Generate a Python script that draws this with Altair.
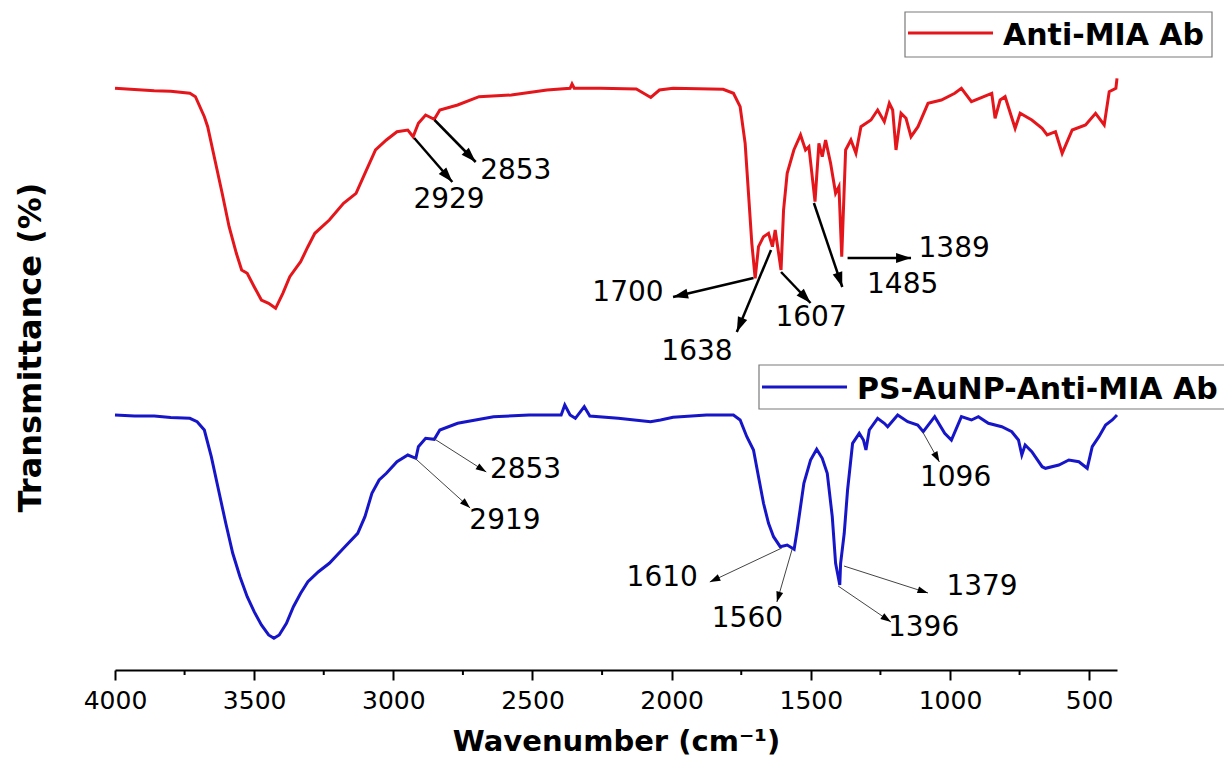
import math
import altair as alt
import pandas as pd

series_names = ["Anti-MIA Ab", "PS-AuNP-Anti-MIA Ab"]
series_colors = ["#e5161b", "#1616c8"]

# Anti-MIA Ab (offset transmittance, arbitrary units)
red_wn = [4000, 3930, 3859, 3800, 3731, 3711, 3679, 3667, 3641, 3615, 3590, 3564, 3545, 3525, 3500,
          3474, 3448, 3423, 3397, 3372, 3346, 3333, 3307, 3282, 3230, 3179, 3134, 3102, 3064,
          3025, 2987, 2948, 2929, 2910, 2884, 2853, 2833, 2769, 2692, 2576, 2448, 2365, 2358,
          2350, 2256, 2127, 2075, 2044, 1995, 1815, 1778, 1754, 1736, 1724, 1712, 1700, 1688,
          1670, 1652, 1638, 1628, 1607, 1598, 1585, 1561, 1537, 1519, 1507, 1485, 1471, 1459,
          1447, 1429, 1411, 1399, 1389, 1375, 1356, 1338, 1320, 1284, 1260, 1236, 1218, 1206,
          1194, 1176, 1158, 1140, 1115, 1079, 1031, 983, 959, 923, 850, 838, 820, 802, 766,
          748, 706, 669, 651, 621, 597, 561, 513, 477, 446, 428, 404, 400]
red_t = [581.7, 580.5, 579.3, 578.8, 576.7, 573.3, 553.3, 543.3, 510, 476.7, 443.3, 416.7, 400, 396.7, 383.3,
         370, 366.7, 361.7, 376.7, 393.3, 403.3, 408.3, 423.3, 436.7, 450, 466.7, 476.7, 496.7, 520,
         530, 538.3, 540, 533.3, 546.7, 555, 550.7, 560, 565, 573.3, 575, 580, 581.7, 586,
         581.7, 581.7, 581, 572.5, 580, 581.7, 580.7, 576.7, 563.3, 526.7, 476.7, 426.7, 391.7, 423.3,
         433.3, 436.7, 423.3, 440, 400, 460, 496.7, 520, 535, 520, 523.3, 468.3, 526.7, 513.3,
         530, 506.7, 476.7, 483.3, 413.3, 520, 530, 516.7, 543.3, 550, 560, 548.3, 566.7, 560,
         520, 556.7, 551.7, 533.3, 543.3, 566.7, 570, 576.7, 581.7, 568.3, 576.7, 551.7, 570, 573.3, 541.7,
         556.7, 550, 541.7, 535, 538.3, 516.7, 540, 545, 556.7, 545, 578.3, 581.7, 591.7]

# PS-AuNP-Anti-MIA Ab
blue_wn = [4000, 3930, 3859, 3800, 3731, 3705, 3679, 3654, 3628, 3602, 3577, 3551, 3525, 3500, 3474,
           3448, 3429, 3410, 3384, 3359, 3333, 3307, 3269, 3230, 3179, 3128, 3102, 3077, 3051,
           3025, 2987, 2948, 2919, 2910, 2884, 2853, 2833, 2769, 2640, 2512, 2397, 2384, 2365,
           2346, 2314, 2294, 2192, 2076, 2040, 1995, 1875, 1778, 1754, 1730, 1706, 1688, 1670,
           1652, 1634, 1610, 1585, 1560, 1549, 1525, 1501, 1479, 1459, 1441, 1423, 1411, 1396,
           1393, 1380, 1368, 1350, 1326, 1311, 1302, 1290, 1260, 1236, 1224, 1188, 1152, 1116,
           1096, 1055, 1019, 995, 959, 923, 898, 862, 814, 778, 754, 742, 730, 706, 669, 657,
           609, 573, 537, 507, 489, 465, 441, 417, 400]
blue_t = [255, 254, 254, 252.5, 251.7, 248.3, 240, 213.3, 180, 146.7, 116.7, 93.3, 73.3, 58.3, 45,
          35, 31.7, 35, 46.7, 63.3, 76.7, 88.3, 98.3, 106.7, 121.7, 136.7, 153.3, 176.7, 190,
          196.7, 208.3, 215, 211.7, 223.3, 231.7, 230.7, 240, 246.7, 253.3, 255, 255, 265, 255,
          251.7, 263.3, 254, 251.7, 248.3, 250, 252.7, 255, 255, 250, 233.3, 220, 193.3, 166.7,
          146.7, 133.3, 123.3, 125, 120.7, 140, 186.7, 210, 220.7, 211.7, 196.7, 153.3, 106.7, 85,
          106.7, 136.7, 180, 226.7, 236.7, 230, 220, 240, 251.7, 246.7, 243.3, 255, 248.3, 245,
          238.3, 253.3, 236.7, 230, 253.3, 250, 253.3, 246.7, 243.3, 238.3, 230, 215, 225, 218.3, 203.3, 201.7,
          205, 210, 208.3, 201.7, 223.3, 233.3, 245, 250, 255]

major_ticks = [4000, 3500, 3000, 2500, 2000, 1500, 1000, 500]
minor_ticks = [3750, 3250, 2750, 2250, 1750, 1250, 750]

# peak annotations: label, arrow start (wn, T), arrow end (wn, T), label position (wn, T)
red_labels = ["2929", "2853", "1700", "1638", "1607", "1485", "1389"]
red_x1 = [2925, 2852, 1706, 1643, 1607, 1489, 1368]
red_y1 = [532, 550, 392, 420, 398, 467, 412]
red_x2 = [2788, 2704, 1995, 1766, 1501, 1387, 1140]
red_y2 = [488, 508, 373, 338, 367, 383, 412]
red_lx = [2800, 2560, 2157, 1909, 1499, 1170, 985]
red_ly = [470, 499, 377, 318, 352, 385, 421]

blue_labels = ["2853", "2919", "1610", "1560", "1379", "1396", "1096"]
blue_x1 = [2852, 2923, 1604, 1567, 1381, 1402, 1098]
blue_y1 = [231, 212, 122, 121, 104, 84, 238]
blue_x2 = [2666, 2724, 1863, 1622, 1079, 1212, 1038]
blue_y2 = [198, 162, 88, 68, 77, 48, 208]
blue_lx = [2525, 2599, 2034, 1728, 885, 1095, 980]
blue_ly = [200, 149, 92, 51, 83, 42, 192]

W, H = 1002, 660
X_DOMAIN = [4000, 400]
Y_DOMAIN = [0, 660]
kx = W / (X_DOMAIN[0] - X_DOMAIN[1])
ky = H / (Y_DOMAIN[1] - Y_DOMAIN[0])


def head_angle(x1, y1, x2, y2):
    dx = -(x2 - x1) * kx
    dy = -(y2 - y1) * ky
    return math.degrees(math.atan2(dx, -dy)) % 360


def ann_frames(labels, x1, y1, x2, y2, lx, ly):
    arrows = pd.DataFrame({"wn": x1, "T": y1, "wn2": x2, "T2": y2})
    heads = pd.DataFrame({"wn": x2, "T": y2,
                          "ang": [head_angle(a, b, c, d) for a, b, c, d in zip(x1, y1, x2, y2)]})
    texts = pd.DataFrame({"wn": lx, "T": ly, "label": labels})
    return arrows, heads, texts


FONT = "DejaVu Sans"
xscale = alt.Scale(domain=X_DOMAIN, nice=False, zero=False)
yscale = alt.Scale(domain=Y_DOMAIN, nice=False, zero=False)
xaxis = alt.Axis(values=major_ticks, format="d", grid=False, labelFont=FONT, labelFontSize=25,
                 labelColor="black", tickColor="black", tickWidth=2, tickSize=10,
                 domainColor="black", domainWidth=2, labelPadding=8, labelFlush=False,
                 title="Wavenumber (cm⁻¹)", titleFont=FONT, titleFontWeight="bold",
                 titleFontSize=29, titleColor="black", titlePadding=14)
yaxis = alt.Axis(grid=False, domain=False, ticks=False, labels=False,
                 title="Transmittance (%)", titleFont=FONT, titleFontWeight="bold",
                 titleFontSize=32, titleColor="black", titleX=-85, titleY=337,
                 titleAlign="center", titleBaseline="middle")

X = lambda f="wn": alt.X(f + ":Q", scale=xscale, axis=xaxis)
Y = lambda f="T": alt.Y(f + ":Q", scale=yscale, axis=yaxis)

red_df = pd.DataFrame({"wn": red_wn, "T": red_t})
blue_df = pd.DataFrame({"wn": blue_wn, "T": blue_t})

red_line = alt.Chart(red_df).mark_line(color=series_colors[0], strokeWidth=3).encode(x=X(), y=Y())
blue_line = alt.Chart(blue_df).mark_line(color=series_colors[1], strokeWidth=3).encode(x=X(), y=Y())

minor = alt.Chart(pd.DataFrame({"wn": minor_ticks})).mark_rule(color="black", strokeWidth=2).encode(
    x=X(), y=alt.value(H), y2=alt.value(H + 5))

HEAD = "M0,0L-1,3L1,3Z"
layers = [minor, red_line, blue_line]
for (lab, a1, b1, a2, b2, lx, ly), lw, col, hsize in [
    ((red_labels, red_x1, red_y1, red_x2, red_y2, red_lx, red_ly), 2.5, "black", 100),
    ((blue_labels, blue_x1, blue_y1, blue_x2, blue_y2, blue_lx, blue_ly), 1, "#444444", 49),
]:
    arrows, heads, texts = ann_frames(lab, a1, b1, a2, b2, lx, ly)
    layers.append(alt.Chart(arrows).mark_rule(color=col, strokeWidth=lw).encode(
        x=X(), x2="wn2:Q", y=Y(), y2="T2:Q"))
    layers.append(alt.Chart(heads).mark_point(shape=HEAD, filled=True, color="black", opacity=1,
                                              size=hsize, strokeWidth=0).encode(
        x=X(), y=Y(), angle=alt.Angle("ang:Q", scale=None)))
    layers.append(alt.Chart(texts).mark_text(font=FONT, fontSize=28, color="black",
                                             align="center", baseline="middle").encode(
        x=X(), y=Y(), text="label:N"))

# boxed legends
one = pd.DataFrame({"k": [0]})
def legend_box(name, color, bx1, bx2, by1, by2, lx1, lx2, ly, tx, ty):
    box = alt.Chart(one).mark_rect(fill="white", stroke="#7a7a7a", strokeWidth=1.2).encode(
        x=alt.value(bx1), x2=alt.value(bx2), y=alt.value(by1), y2=alt.value(by2))
    line = alt.Chart(one).mark_rule(color=color, strokeWidth=3).encode(
        x=alt.value(lx1), x2=alt.value(lx2), y=alt.value(ly))
    txt = alt.Chart(one).mark_text(text=name, font=FONT, fontSize=30, fontWeight="bold",
                                   color="black", align="left", baseline="middle").encode(
        x=alt.value(tx), y=alt.value(ty))
    return [box, line, txt]

layers += legend_box(series_names[0], series_colors[0], 790, 1097, 2, 47, 793, 878, 23, 888, 26)
layers += legend_box(series_names[1], series_colors[1], 644, 1160, 355, 399, 647, 732, 377, 742, 380)

chart = alt.layer(*layers).properties(
    width=W, height=H,
    autosize=alt.AutoSizeParams(type="none"),
    padding={"left": 107, "top": 2, "right": 107, "bottom": 90},
).configure(background="white").configure_view(stroke=None, strokeWidth=0)

chart.save("out.html", embed_options={"renderer": "svg", "actions": False})
